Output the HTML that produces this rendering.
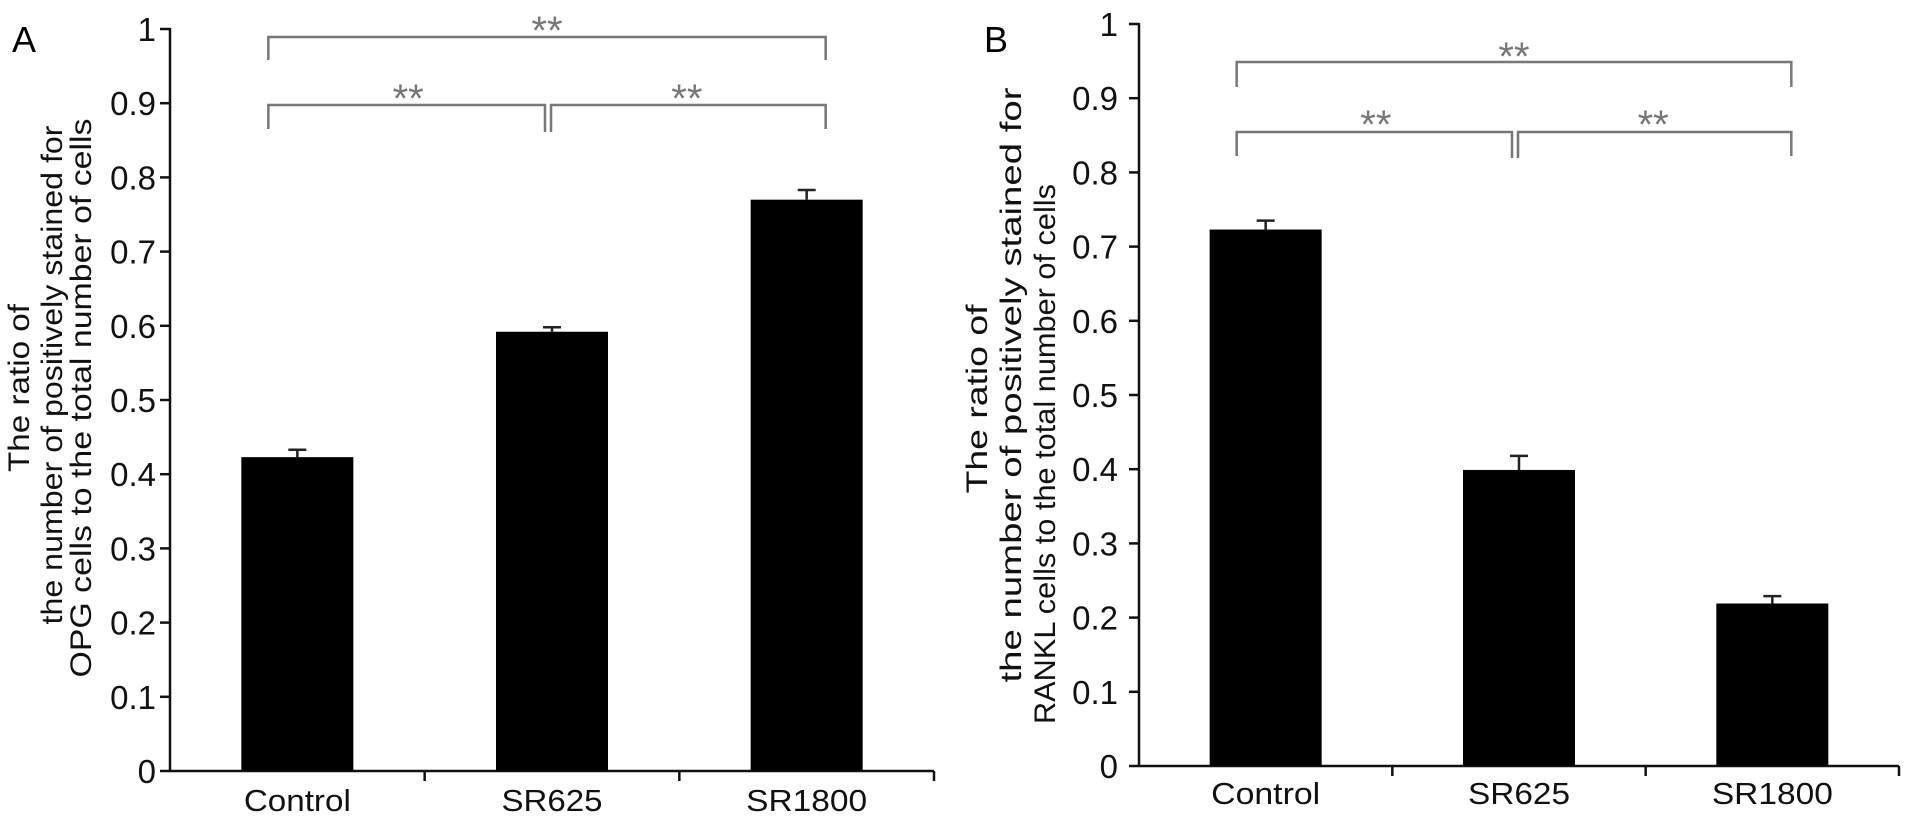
<!DOCTYPE html>
<html><head><meta charset="utf-8"><style>
html,body{margin:0;padding:0;background:#fff;}
svg{display:block;font-family:"Liberation Sans",Arial,sans-serif;}
</style></head><body>
<svg id="fig" width="1913" height="823" viewBox="0 0 1913 823">
<text x="12" y="52" font-size="36">A</text>
<text x="984" y="52" font-size="36">B</text>
</svg>
<script>
const categories = ["Control", "SR625", "SR1800"];
const opgValues = [0.423, 0.592, 0.770];
const opgErrors = [0.010, 0.006, 0.013];
const ranklValues = [0.723, 0.399, 0.219];
const ranklErrors = [0.012, 0.019, 0.010];
const yTicks = [0, 0.1, 0.2, 0.3, 0.4, 0.5, 0.6, 0.7, 0.8, 0.9, 1];
const yTickLabels = ["0", "0.1", "0.2", "0.3", "0.4", "0.5", "0.6", "0.7", "0.8", "0.9", "1"];
const sigLabels = ["**", "**", "**"];

const NS = "http://www.w3.org/2000/svg";
const svg = document.getElementById("fig");
function mk(tag, attrs, parent) {
  const e = document.createElementNS(NS, tag);
  for (const k in attrs) e.setAttribute(k, attrs[k]);
  (parent || svg).appendChild(e);
  return e;
}

const panels = [
  {id:"a", ax:170, y0:771, y1:29, xEnd:934, values:opgValues, errors:opgErrors, lblRight:156, catY:811,
   catW:[107,101,121],
   title:[["The ratio of",19,388,168],["the number of positively stained for",52,375,499],["OPG cells to the total number of cells",81,398,559]],
   br:{top:37, topDrop:60, low:105, lowDrop:129, midDrop:132, starTop:21, starLow:89}},
  {id:"b", ax:1139, y0:766, y1:24, xEnd:1899, values:ranklValues, errors:ranklErrors, lblRight:1118, catY:804,
   catW:[109,102,121],
   title:[["The ratio of",977,399,189],["the number of positively stained for",1011,385,595],["RANKL cells to the total number of cells",1045,454,540]],
   br:{top:62, topDrop:87, low:132, lowDrop:156, midDrop:158, starTop:47, starLow:115}}
];

panels.forEach(p => {
  const g = mk("g", {});
  
  
  const yS = v => p.y0 - v * (p.y0 - p.y1);
  const bandW = (p.xEnd - p.ax) / categories.length;
  const xC = i => p.ax + bandW * (i + 0.5);
  const barW = 112;

  const yAxis = mk("line", {x1:p.ax, y1:yS(1)-1, x2:p.ax, y2:p.y0+1, stroke:"#111", "stroke-width":2.5}, g);
  
  
  yTicks.forEach((t, i) => {
    const tk = mk("line", {x1:p.ax-10, y1:yS(t), x2:p.ax, y2:yS(t), stroke:"#111", "stroke-width":2.5}, g);
    
    
    const lb = mk("text", {x:p.lblRight, y:yS(t)+12, "font-size":33, "text-anchor":"end", fill:"#111"}, g);
    lb.textContent = yTickLabels[i];
    
    
  });
  const xAxis = mk("line", {x1:p.ax, y1:p.y0, x2:p.xEnd, y2:p.y0, stroke:"#111", "stroke-width":2.5}, g);
  
  
  for (let i = 1; i <= categories.length; i++) {
    const xt = p.ax + bandW * i;
    const tk = mk("line", {x1:xt, y1:p.y0, x2:xt, y2:p.y0+10, stroke:"#111", "stroke-width":2.5}, g);
    
    
  }
  categories.forEach((c, i) => {
    const lb = mk("text", {x:xC(i), y:p.catY, "font-size":31, "text-anchor":"middle", fill:"#111",
      textLength:p.catW[i], lengthAdjust:"spacingAndGlyphs"}, g);
    lb.textContent = c;
    
    
  });
  p.values.forEach((v, i) => {
    const bar = mk("rect", {x:xC(i)-barW/2, y:yS(v), width:barW, height:p.y0-yS(v), fill:"#000"}, g);
    
    
    const top = yS(v + p.errors[i]);
    const eb = mk("path", {d:`M${xC(i)},${yS(v)} V${top} M${xC(i)-9},${top} H${xC(i)+9}`, stroke:"#222", "stroke-width":2.5, fill:"none"}, g);
    
    
  });
  const xl = xC(0) - 29, xm = xC(1) - 4, xr = xC(2) + 19;
  const b = p.br;
  const brs = [
    [`M${xl},${b.topDrop} V${b.top} H${xr} V${b.topDrop}`, (xl+xr)/2, b.starTop],
    [`M${xl},${b.lowDrop} V${b.low} H${xm-3} V${b.midDrop}`, (xl+xm)/2, b.starLow],
    [`M${xm+3},${b.midDrop} V${b.low} H${xr} V${b.lowDrop}`, (xm+xr)/2, b.starLow]
  ];
  brs.forEach((d, k) => {
    const path = mk("path", {d:d[0], stroke:"#777", "stroke-width":2.5, fill:"none"}, g);
    
    
    const st = mk("text", {x:d[1], y:d[2]+23, "font-size":40, "text-anchor":"middle", fill:"#777"}, g);
    st.textContent = sigLabels[k];
    
    
  });
  p.title.forEach(t => {
    const tx = mk("text", {x:0, y:0, "font-size":30, "text-anchor":"middle", fill:"#111",
      transform:`translate(${t[1]+10},${t[2]}) rotate(-90)`, textLength:t[3], lengthAdjust:"spacingAndGlyphs"}, g);
    tx.textContent = t[0];
    
    
  });
});
</script>
</body></html>
